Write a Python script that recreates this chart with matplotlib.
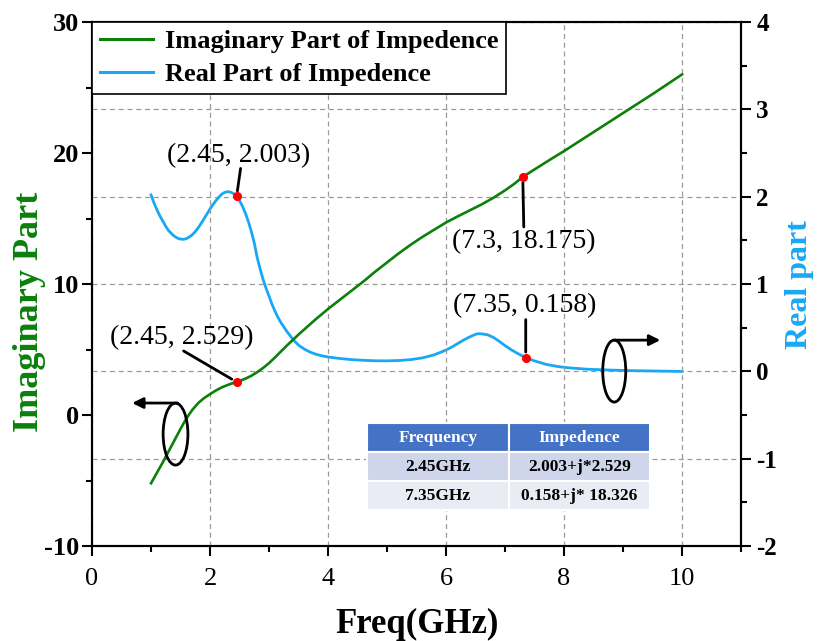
import matplotlib
matplotlib.use("Agg")
import matplotlib.pyplot as plt
from matplotlib.patches import Ellipse
from matplotlib.ticker import MultipleLocator
from matplotlib.lines import Line2D

plt.rcParams['font.family'] = ['Liberation Serif', 'DejaVu Serif']
plt.rcParams['axes.unicode_minus'] = False

# ---- data -------------------------------------------------------------
freq_imag = [1.0, 1.1, 1.2, 1.3, 1.4, 1.5, 1.6, 1.7, 1.8, 1.9, 2.0, 2.1,
             2.2, 2.3, 2.4, 2.45, 2.5, 2.6, 2.7, 2.8, 2.9, 3.0, 3.1, 3.2,
             3.3, 3.4, 3.5, 3.6, 3.7, 3.8, 3.9, 4.0, 4.2, 4.4, 4.6, 4.8,
             5.0, 5.2, 5.4, 5.6, 5.8, 6.0, 6.2, 6.4, 6.6, 6.8, 7.0, 7.15,
             7.3, 7.5, 7.8, 8.0, 8.5, 9.0, 9.5, 10.0]
imag_part = [-5.2, -4.4, -3.6, -2.75, -1.9, -1.05, -0.25, 0.4, 0.92, 1.3,
             1.6, 1.88, 2.12, 2.3, 2.46, 2.529, 2.6, 2.78, 3.0, 3.28, 3.6,
             3.97, 4.4, 4.85, 5.3, 5.72, 6.15, 6.55, 6.95, 7.35, 7.72, 8.1,
             8.8, 9.5, 10.2, 10.95, 11.65, 12.35, 13.0, 13.6, 14.15, 14.7,
             15.17, 15.62, 16.07, 16.58, 17.15, 17.63, 18.175, 18.75, 19.6,
             20.15, 21.6, 23.05, 24.5, 26.0]

freq_real = [1.0, 1.05, 1.1, 1.15, 1.2, 1.25, 1.3, 1.35, 1.4, 1.45, 1.5,
             1.55, 1.6, 1.65, 1.7, 1.75, 1.8, 1.85, 1.9, 1.95, 2.0, 2.05,
             2.1, 2.15, 2.2, 2.25, 2.3, 2.35, 2.4, 2.45, 2.5, 2.55, 2.6,
             2.65, 2.7, 2.75, 2.8, 2.85, 2.9, 2.95, 3.0, 3.05, 3.1, 3.15,
             3.2, 3.3, 3.4, 3.5, 3.6, 3.7, 3.8, 3.9, 4.0, 4.2, 4.4, 4.6,
             4.8, 5.0, 5.2, 5.4, 5.6, 5.8, 6.0, 6.1, 6.2, 6.3, 6.4, 6.5,
             6.55, 6.6, 6.7, 6.8, 6.9, 7.0, 7.1, 7.2, 7.35, 7.5, 7.7, 7.9,
             8.1, 8.4, 8.8, 9.2, 9.6, 10.0]
real_part = [2.02, 1.93, 1.85, 1.78, 1.72, 1.66, 1.61, 1.575, 1.545, 1.525,
             1.515, 1.512, 1.52, 1.54, 1.565, 1.6, 1.645, 1.695, 1.75,
             1.805, 1.86, 1.91, 1.955, 1.995, 2.03, 2.05, 2.058, 2.052,
             2.035, 2.003, 1.955, 1.89, 1.81, 1.715, 1.6, 1.47, 1.3, 1.17,
             1.05, 0.95, 0.86, 0.77, 0.69, 0.62, 0.56, 0.46, 0.37, 0.30,
             0.255, 0.22, 0.195, 0.178, 0.165, 0.148, 0.135, 0.127, 0.122,
             0.121, 0.125, 0.135, 0.155, 0.19, 0.245, 0.28, 0.32, 0.36,
             0.395, 0.425, 0.432, 0.43, 0.42, 0.39, 0.345, 0.295, 0.25,
             0.21, 0.158, 0.12, 0.08, 0.055, 0.04, 0.025, 0.015, 0.008,
             0.004, 0.0]

marked_imag = [(2.45, 2.529), (7.3, 18.175)]
marked_real = [(2.45, 2.003), (7.35, 0.158)]

table_cols = ['Frequency', 'Impedence']
table_rows = [['2.45GHz', '2.003+j*2.529'],
              ['7.35GHz', '0.158+j* 18.326']]

GREEN = '#0B800B'
BLUE = '#18A8F5'

# ---- figure -----------------------------------------------------------
fig = plt.figure(figsize=(8.18, 6.41), dpi=100)
ax = fig.add_axes([0.1125, 0.148, 0.7935, 0.8177])
ax2 = ax.twinx()
# the left axes (green curve, legend, table) sits above the right one
ax.set_zorder(ax2.get_zorder() + 1)
ax.patch.set_visible(False)

ax.set_xlim(0, 11)
ax.set_ylim(-10, 30)
ax2.set_ylim(-2, 4)

ax.xaxis.set_major_locator(MultipleLocator(2))
ax.xaxis.set_minor_locator(MultipleLocator(1))
ax.yaxis.set_major_locator(MultipleLocator(10))
ax.yaxis.set_minor_locator(MultipleLocator(5))
ax2.yaxis.set_major_locator(MultipleLocator(1))
ax2.yaxis.set_minor_locator(MultipleLocator(0.5))

grid_style = dict(color='#9A9A9A', linestyle=(0, (4, 3)), linewidth=0.9)
ax.grid(axis='x', **grid_style)
ax2.grid(axis='y', **grid_style)
ax.set_axisbelow(True)
ax2.set_axisbelow(True)

for a in (ax, ax2):
    for s in a.spines.values():
        s.set_linewidth(1.5)
    a.tick_params(which='major', direction='out', length=7, width=1.5)
    a.tick_params(which='minor', direction='out', length=4, width=1.5)

ax.tick_params(axis='x', labelsize=19, pad=9)
ax.tick_params(axis='y', labelsize=19, pad=2)
ax2.tick_params(axis='y', labelsize=18, pad=4)
for lab in ax.get_yticklabels() + ax2.get_yticklabels():
    lab.set_fontweight('bold')

# ---- curves -----------------------------------------------------------
ax.plot(freq_imag, imag_part, color=GREEN, lw=1.9, zorder=3)
ax2.plot(freq_real, real_part, color=BLUE, lw=2.0, zorder=3)

ax.plot([p[0] for p in marked_imag], [p[1] for p in marked_imag], 'o',
        color='red', ms=5.5, zorder=5)
ax2.plot([p[0] for p in marked_real], [p[1] for p in marked_real], 'o',
         color='red', ms=5.5, zorder=5)


def callout(axis, point, text_off, line_end, shrink=4):
    axis.annotate('', xy=point, xytext=line_end, textcoords='offset pixels',
                  arrowprops=dict(arrowstyle='-', lw=2, color='black',
                                  shrinkA=0, shrinkB=shrink), zorder=4)
    axis.annotate(f'({point[0]:g}, {point[1]:g})', xy=point,
                  xytext=text_off, textcoords='offset pixels',
                  ha='center', va='center', fontsize=20, zorder=6)


callout(ax2, marked_real[0], (2, 41), (4, 28))
callout(ax, marked_imag[0], (-55, 44), (-53, 31))
callout(ax, marked_imag[1], (1, -65), (1, -50))
callout(ax2, marked_real[1], (-1, 52), (0, 38))

# ---- axis-direction markers ---------------------------------------------
ax.add_patch(Ellipse((1.415, -1.45), 0.42, 4.73, fill=False, lw=2,
                     edgecolor='black', zorder=6))
ax.annotate('', xy=(0.68, 0.92), xytext=(1.45, 0.92),
            arrowprops=dict(arrowstyle='-|>', lw=2, color='black',
                            mutation_scale=16, shrinkA=0, shrinkB=0),
            zorder=6)
ax.add_patch(Ellipse((8.85, 3.36), 0.39, 4.73, fill=False, lw=2,
                     edgecolor='black', zorder=6))
ax.annotate('', xy=(9.63, 5.72), xytext=(8.85, 5.72),
            arrowprops=dict(arrowstyle='-|>', lw=2, color='black',
                            mutation_scale=16, shrinkA=0, shrinkB=0),
            zorder=6)

# ---- labels -------------------------------------------------------------
ax.set_xlabel('Freq(GHz)', fontsize=25, fontweight='bold', labelpad=13)
fig.text(30 / 818, 1 - 312 / 641, 'Imaginary Part', rotation=90,
         ha='center', va='center', fontsize=26, fontweight='bold',
         color=GREEN)
fig.text(800 / 818, 1 - 285 / 641, 'Real part', rotation=90,
         ha='center', va='center', fontsize=23, fontweight='bold',
         color=BLUE)

# ---- legend -------------------------------------------------------------
handles = [Line2D([], [], color=GREEN, lw=2.2),
           Line2D([], [], color=BLUE, lw=2.2)]
leg = ax.legend(handles, ['Imaginary Part of Impedence',
                          'Real Part of Impedence'],
                loc='upper left', bbox_to_anchor=(0, 1), borderaxespad=0,
                fancybox=False, framealpha=1, edgecolor='black',
                prop=dict(size=19, weight='bold'), handlelength=2.0,
                handletextpad=0.45, labelspacing=0.34, borderpad=0.3)
leg.get_frame().set_linewidth(1.2)
leg.set_zorder(10)

# ---- summary table ------------------------------------------------------
tbl = ax.table(cellText=table_rows, colLabels=table_cols,
               cellLoc='center', bbox=[0.4237, 0.0687, 0.436, 0.166],
               zorder=8)
tbl.auto_set_font_size(False)
fills = {0: '#4472C4', 1: '#CFD5EA', 2: '#E9EBF5'}
for (r, c), cell in tbl.get_celld().items():
    cell.set_facecolor(fills[r])
    cell.set_edgecolor('white')
    cell.set_linewidth(1.5)
    txt = cell.get_text()
    txt.set_fontsize(12.5)
    txt.set_fontweight('bold')
    txt.set_color('white' if r == 0 else 'black')

fig.savefig('out.png', dpi=100)
